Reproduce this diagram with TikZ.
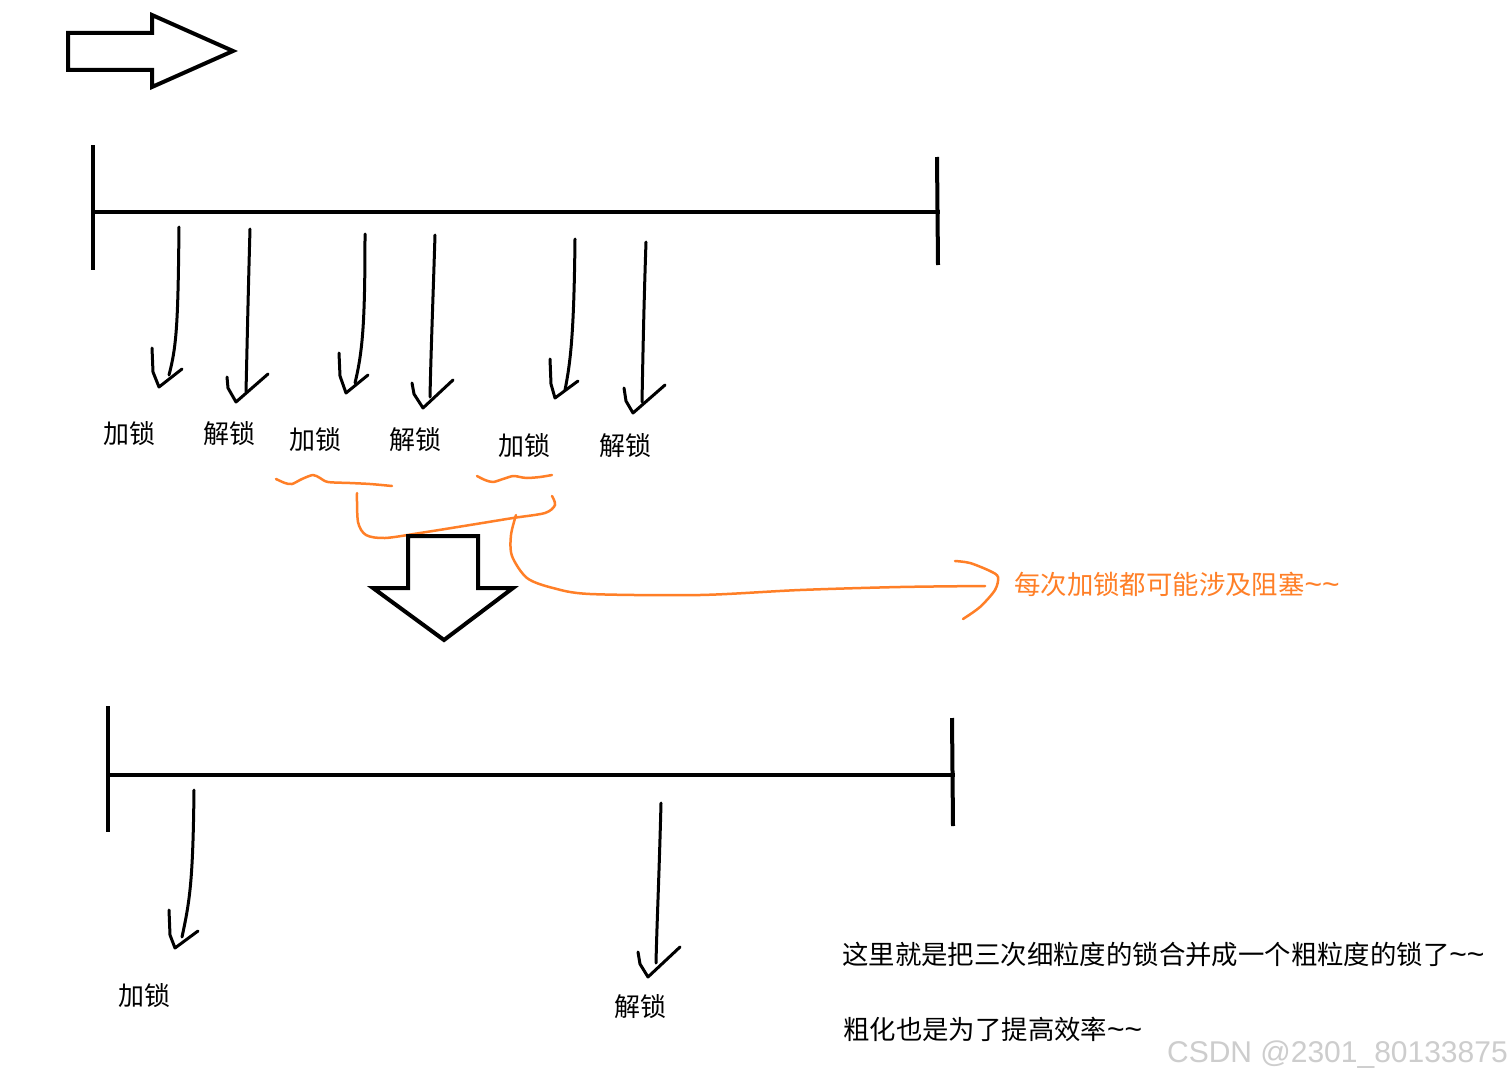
\documentclass[tikz,border=0pt]{standalone}
\usepackage{fontspec}
\newfontfamily\cjk{Noto Sans CJK SC}
\newfontfamily\wmfont{Liberation Sans}
\definecolor{inkorange}{RGB}{255,127,39}
\definecolor{wmgray}{RGB}{205,205,205}
\newcommand{\tld}{{\wmfont\fontsize{30}{30}\selectfont\char`\~\char`\~}}
\begin{document}
\begin{tikzpicture}[x=1pt,y=-1pt,
  hand/.style={line width=3pt, line cap=round, line join=round},
  bar/.style={line width=4pt},
  fat/.style={line width=4pt, line join=miter},
  orng/.style={draw=inkorange, line width=2.5pt, line cap=round, line join=round},
  lbl/.style={font=\cjk\fontsize{26}{26}\selectfont, inner sep=0pt},
  note/.style={font=\cjk\fontsize{26.4}{26.4}\selectfont, inner sep=0pt, anchor=west},
]
\useasboundingbox[fill=white] (0,0) rectangle (1512,1081);

% big right arrow
\draw[fat] (68,33) -- (152,33) -- (152,15) -- (233,51) -- (152,87) -- (152,70) -- (68,70) -- cycle;

% timeline 1
\coordinate (t1l) at (92,212);
\coordinate (t1r) at (940,212);
\draw[bar] (t1l) -- (t1r);
\draw[bar] (93,145) -- (93,270);
\draw[bar] (937,157) -- (938,265);

% labels top
\node[lbl] (l1) at (129,434) {加锁};
\node[lbl] (l2) at (229,434) {解锁};
\node[lbl] (l3) at (315,440) {加锁};
\node[lbl] (l4) at (415,440) {解锁};
\node[lbl] (l5) at (524,446) {加锁};
\node[lbl] (l6) at (625,446) {解锁};

% handwritten arrows top
\draw[hand] (179,227) .. controls (178,320) and (177,345) .. (169,375);
\draw[hand] (152,348) -- (153,372) -- (159,387) -- (182,369);
\draw[hand] (250,229) .. controls (248,300) and (247,350) .. (246,392);
\draw[hand] (227,377) -- (228,388) -- (236,402) -- (268,374);
\draw[hand] (365,234) .. controls (365,320) and (363,350) .. (355,383);
\draw[hand] (339,353) -- (340,376) -- (346,393) -- (368,375);
\draw[hand] (435,235) .. controls (433,300) and (431,350) .. (430,397);
\draw[hand] (412,383) -- (414,394) -- (423,408) -- (453,380);
\draw[hand] (575,239) .. controls (574,330) and (571,360) .. (565,390);
\draw[hand] (550,359) -- (551,384) -- (555,398) -- (578,381);
\draw[hand] (646,242) .. controls (644,300) and (643,350) .. (642,402);
\draw[hand] (624,388) -- (626,401) -- (633,413) -- (665,385);

% orange marks
\draw[orng] plot[smooth] coordinates {(276,479) (285,483) (292,484) (302,479) (313,475) (320,478) (328,482) (350,483) (370,484) (392,486)};
\draw[orng] plot[smooth] coordinates {(477,476) (485,480) (493,482) (503,479) (513,476) (520,477) (527,478) (540,477) (552,475)};
\draw[orng] plot[smooth] coordinates {(357,493) (358,522) (366,535) (385,538) (420,533) (470,525) (513,518) (545,513) (555,505) (552,496)};
\draw[orng] plot[smooth] coordinates {(516,515) (511,535) (512,556) (527,578) (553,588) (590,594) (700,595) (800,590) (900,587) (985,586)};
\draw[orng] plot[smooth] coordinates {(955,561) (970,563) (990,571) (998,577) (995,590) (980,607) (963,619)};
\node[note, text=inkorange] (warn) at (1014,584) {每次加锁都可能涉及阻塞\tld};

% big down arrow
\draw[fat] (408,536) -- (478,536) -- (478,588) -- (513,588) -- (444,640) -- (373,588) -- (408,588) -- cycle;

% timeline 2
\coordinate (t2l) at (107,775);
\coordinate (t2r) at (955,775);
\draw[bar] (t2l) -- (t2r);
\draw[bar] (108,706) -- (108,832);
\draw[bar] (952,718) -- (953,826);

% bottom arrows
\draw[hand] (194,790) .. controls (193,880) and (190,900) .. (182,937);
\draw[hand] (169,910) -- (170,935) -- (175,948) -- (198,931);
\draw[hand] (661,803) .. controls (659,880) and (657,920) .. (656,963);
\draw[hand] (638,952) -- (640,964) -- (648,977) -- (680,947);

\node[lbl] (b1) at (144,996) {加锁};
\node[lbl] (b2) at (640,1007) {解锁};

% notes
\node[note] (n1) at (842,954) {这里就是把三次细粒度的锁合并成一个粗粒度的锁了\tld};
\node[note] (n2) at (843,1029) {粗化也是为了提高效率\tld};
\node[font=\wmfont\fontsize{30}{30}\selectfont, text=wmgray, inner sep=0pt, anchor=east] (wm) at (1508,1055) {CSDN @2301\_80133875};
\end{tikzpicture}
\end{document}
